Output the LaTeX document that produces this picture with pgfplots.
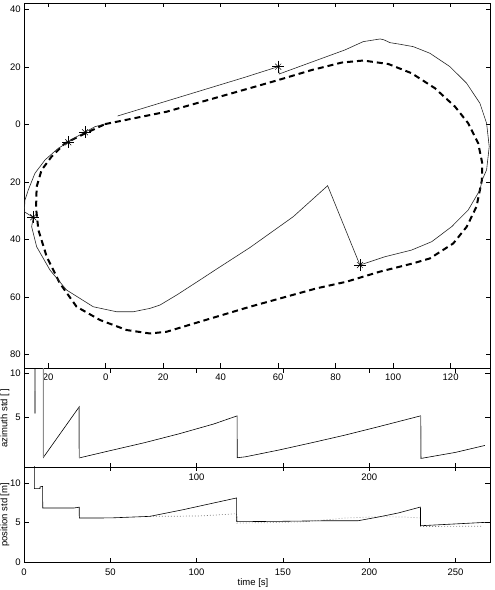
\documentclass[border=0pt]{standalone}
\usepackage{pgfplots}
\pgfplotsset{compat=1.18}
\usepackage{fontspec}
\setmainfont{Liberation Sans}
\begin{document}
\fontsize{9.5}{11}\selectfont
\begin{tikzpicture}
\useasboundingbox (0,0) rectangle (495pt,590pt);
\pgfplotsset{
  every axis/.append style={
    scale only axis, anchor=north west, width=466pt,
    font=\fontsize{9.5}{11}\selectfont,
    /pgf/number format/assume math mode=true,
    axis line style={line width=0.7pt},
    tick style={black, line width=0.6pt},
    major tick length=4.5pt, tick align=inside,
    xticklabel style={yshift=-3pt},
    unbounded coords=jump,
  },
}
% ---------------- trajectory panel ----------------
\begin{axis}[at={(24pt,587pt)}, height=365pt,
  xmin=-28.4, xmax=133.7, ymin=-84.7, ymax=42.2,
  xtick={-20,0,20,40,60,80,100,120},
  xticklabels={20\hspace{12pt},0,20,40,60,80,100,120},
  ytick={-80,-60,-40,-20,0,20,40},
  yticklabels={80\hspace{7pt},60\hspace{7pt},40\hspace{7pt},20\hspace{7pt},0\hspace{9pt},20,40}]
\addplot[black, line width=2pt, dash pattern=on 6pt off 4pt] coordinates {
(-0.2,0.1) (21.2,4.4) (50.2,12.6) (60.0,15.4) (71.7,18.9) (82.2,21.5) (89.6,22.2)
(98.3,21.0) (106.4,17.8) (114.5,12.6) (121.5,6.2) (126.1,0.4) (129.6,-6.6)
(131.0,-13.5) (130.9,-19.3) (129.0,-28.6) (125.6,-35.6) (120.9,-41.4) (112.8,-46.6)
(107.0,-48.3) (95.4,-51.2) (83.8,-54.7) (73.4,-57.0) (50.2,-63.4) (32.8,-68.6)
(21.2,-72.1) (15.4,-72.7) (7.3,-71.5) (-2.0,-68.0) (-10.1,-63.4) (-15.9,-55.3)
(-20.5,-46.0) (-23.4,-36.7) (-24.2,-29.1) (-24.0,-21.7) (-22.3,-15.9) (-18.8,-11.2)
(-14.2,-6.6) (-8.3,-3.7) (-0.2,0.1)};
\addplot[black!85, line width=0.6pt] coordinates {
(-0.24,0.14) (-3.72,-0.80) (-7.20,-2.75) (-10.09,-4.28) (-13.01,-6.23) (-16.49,-8.31)
(-21.11,-12.38) (-24.59,-17.01) (-26.92,-22.82) (-28.07,-26.30) (-28.31,-30.37)
(-25.18,-32.31) (-25.74,-35.58) (-24.0,-42.54) (-19.37,-50.64) (-13.57,-57.6)
(-4.31,-63.41) (3.83,-65.15) (9.6,-65.15) (15.41,-63.97) (18.89,-62.82) (24.70,-59.34)
(32.8,-54.1) (38.6,-50.3) (50.2,-42.82) (65.25,-32.10) (77.22,-21.32)
(88.45,-48.9) (97.15,-46.02) (106.43,-43.69) (113.39,-40.80) (120.35,-35.58)
(126.12,-29.77) (130.19,-22.82) (131.0,-19.3) (132.52,-15.79) (133.43,-7.76)
(132.52,0.38) (130.19,7.34) (125.57,14.30) (119.76,20.07) (112.80,24.73)
(106.99,27.03) (102.37,27.86) (98.89,28.42) (96.8,29.4) (95.5,29.7) (89.6,28.77) (83.23,25.88)
(60.38,17.53) (60.03,20.07) (48.45,16.38) (4.17,2.92)};
\addplot[only marks, mark=+, mark size=6pt, mark options={line width=0.5pt, black}] coordinates {
(-7.2,-2.75) (-13.0,-6.23) (-25.18,-32.31) (88.45,-48.9) (60.03,20.07)};
\addplot[only marks, mark=x, mark size=4.2pt, mark options={line width=0.5pt, black}] coordinates {
(-7.2,-2.75) (-13.0,-6.23) (-25.18,-32.31) (88.45,-48.9) (60.03,20.07)};
\end{axis}
% ---------------- azimuth std panel ----------------
\begin{axis}[at={(24pt,221.5pt)}, height=99pt,
  xmin=0, xmax=270, ymin=-0.6, ymax=10.54,
  xtick={0,50,100,150,200,250}, xticklabels={,,100,,200,},
  ytick={5,10},
  ylabel={azimuth std [ ]},
  ylabel style={at={(axis description cs:-0.0408,0.5)}, anchor=center}]
\addplot[black, line width=0.6pt] coordinates {
(6.37,12) (6.37,5.48) (6.45,12) (11.2,12) (11.2,0.53) (32,6.23) (32.05,0.48)
(50,1.3) (70,2.2) (90,3.2) (110,4.3) (123.5,5.21) (123.55,0.5) (128.2,0.6)
(147.3,1.35) (166.6,2.18) (185.9,3.04) (205.2,3.98) (229.8,5.21) (230,0.42)
(250,1.1) (267,1.88)};
\addplot[black!45, line width=1.1pt] coordinates {
(6.37,8) (6.37,5.48) (6.5,nan)
(11.2,12) (11.2,0.53) (11.3,nan)
(32,6.23) (32.05,0.48) (32.2,nan)
(229.8,5.21) (230,0.42)};
\end{axis}
% ---------------- position std panel ----------------
\begin{axis}[at={(24pt,123pt)}, height=95.5pt,
  xmin=0, xmax=270, ymin=0, ymax=12,
  xtick={0,50,100,150,200,250},
  ytick={0,5,10},
  xlabel={time [s]},
  xlabel style={at={(axis description cs:0.5,0)}, anchor=center, yshift=-20.5pt, xshift=-4pt},
  ylabel={position std [m]},
  ylabel style={at={(axis description cs:-0.0408,0.5)}, anchor=center}]
\addplot[black!50, line width=0.7pt, dash pattern=on 0.8pt off 2.2pt] coordinates {
(73,5.8) (90,5.82) (101.9,5.85) (112,5.98) (123.2,6.13) (123.3,4.96)
(140,5.0) (160,5.1) (175,5.35) (185.9,5.59) (205.2,5.75) (220,5.72) (229.7,5.6)
(229.8,4.53) (265,4.55)};
\addplot[black, line width=0.6pt] coordinates {
(5.97,13) (5.97,9.28) (9.27,9.28) (9.3,9.5) (10.8,9.57) (10.85,6.85) (29,6.85)
(32,6.95) (32.05,5.59) (50,5.6) (73,5.8) (92.3,6.64) (111.6,7.56) (123.2,8.11)
(123.25,5.13) (147.3,5.17) (176.2,5.25) (193.6,5.25) (205.2,5.71) (216.8,6.22)
(229.7,6.97) (229.75,4.62) (267,5.04)};
\end{axis}
\end{tikzpicture}
\end{document}
